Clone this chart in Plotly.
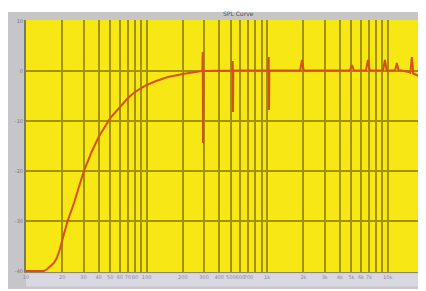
import plotly.graph_objects as go

# Frequency response data (Hz, dB)
freq_hz = [10, 12, 14, 15, 16, 17, 18, 19, 20, 22, 25, 28, 30, 35, 40, 50, 60, 70, 80,
           100, 120, 150, 200, 250, 285, 290, 292, 294, 296, 300, 400,
           505, 512, 518, 521, 524, 530, 700,
           980, 1020, 1030, 1036, 1042, 1060, 1500,
           1880, 1945, 2010, 3000, 4850, 5050, 5250, 6600, 6850, 7100,
           9150, 9480, 9800, 11500, 11900, 12300, 13000, 15000, 15400, 15870, 16300,
           17000, 18500, 20000]
level_db = [-40, -40, -40, -39.6, -39.0, -38.4, -37.4, -35.8, -33.8, -30.2, -26.4, -22.6, -20.2, -16.2, -13.2,
            -9.4, -7.2, -5.4, -4.2, -2.8, -2.0, -1.2, -0.6, -0.3, -0.1, 0.0, 3.8, -14.4, 0.0, 0.0, 0.1,
            0.1, 0.1, 2.0, -8.2, 0.1, 0.1, 0.1,
            0.1, 0.1, 2.8, -7.8, 0.1, 0.1, 0.1,
            0.1, 2.2, 0.1, 0.1, 0.1, 1.2, 0.1, 0.1, 2.2, 0.1,
            0.1, 2.2, 0.1, 0.1, 1.6, 0.1, 0.1, -0.2, -0.3, 2.8, -0.5,
            -0.7, -1.1, -1.7]

x_grid = [10, 20, 30, 40, 50, 60, 70, 80, 90, 100, 200, 300, 400, 500, 600, 700, 800, 900,
          1000, 2000, 3000, 4000, 5000, 6000, 7000, 8000, 9000, 10000]
x_labels = ["10", "20", "30", "40", "50", "60", "70", "80", "", "100", "200", "300", "400", "500",
            "600", "700", "", "", "1k", "2k", "3k", "4k", "5k", "6k", "7k", "", "", "10k"]
y_ticks = [-40, -30, -20, -10, 0, 10]
y_labels = ["-40", "-30", "-20", "-10", "0", "10"]
title_text = "SPL Curve"

fig = go.Figure()
fig.add_trace(go.Scatter(x=freq_hz, y=level_db, mode="lines",
                         line=dict(color="#d94f1a", width=2), hoverinfo="skip"))

fig.update_layout(
    width=418, height=283,
    margin=dict(l=18, r=2, t=12, b=19),
    paper_bgcolor="white",
    plot_bgcolor="#f7e815",
    showlegend=False,
    shapes=[dict(type="rect", xref="paper", yref="paper", layer="below",
                 x0=-0.046, x1=1.006, y0=-0.067, y1=1.032,
                 fillcolor="#c6c6c9", line=dict(width=0)),
            dict(type="rect", xref="paper", yref="paper", layer="below",
                 x0=0.0, x1=1.006, y0=-0.058, y1=-0.006,
                 fillcolor="#d9d8e2", line=dict(width=0)),
            dict(type="rect", xref="paper", yref="paper", layer="below",
                 x0=0.0, x1=1.0, y0=0.0, y1=1.0,
                 fillcolor="#f7e815", line=dict(width=0))],
    annotations=[dict(text=title_text, xref="paper", yref="paper", x=0.535, y=1.003,
                      xanchor="center", yanchor="bottom", showarrow=False,
                      font=dict(size=6, color="#555", family="DejaVu Sans"))],
)
fig.update_xaxes(type="log", range=[1, 4.301], tickvals=x_grid, ticktext=x_labels,
                 showgrid=True, gridcolor="#a39200", gridwidth=1.5,
                 tickfont=dict(size=5, color="#8a8a99", family="DejaVu Sans"),
                 tickangle=0, automargin=False,
                 showline=True, linecolor="#8a8a70", linewidth=1, zeroline=False,
                 ticks="", fixedrange=True)
fig.update_yaxes(range=[-40.2, 10.2], tickvals=y_ticks, ticktext=y_labels,
                 showgrid=True, gridcolor="#a39200", gridwidth=1.5,
                 tickfont=dict(size=5, color="#777", family="DejaVu Sans"),
                 automargin=False,
                 showline=True, linecolor="#7a7a66", linewidth=2, mirror=True,
                 zeroline=False, ticks="", fixedrange=True)

fig.write_html("out.html")
